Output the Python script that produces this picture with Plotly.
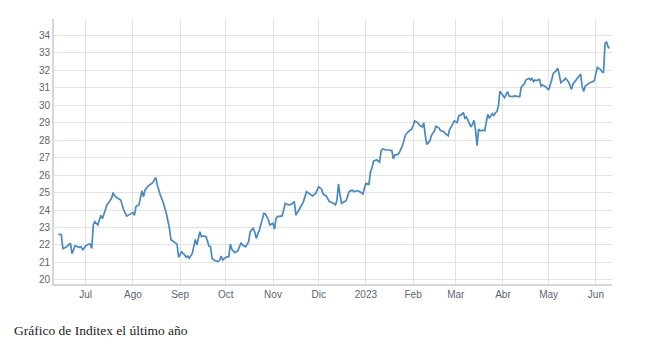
import plotly.graph_objects as go

dates = [
    "2022-06-13", "2022-06-15", "2022-06-16", "2022-06-18", "2022-06-21", "2022-06-22", "2022-06-24",
    "2022-06-27", "2022-06-28", "2022-06-29", "2022-07-01", "2022-07-03", "2022-07-04", "2022-07-05",
    "2022-07-06", "2022-07-07", "2022-07-09", "2022-07-11", "2022-07-12", "2022-07-13", "2022-07-15",
    "2022-07-16", "2022-07-18", "2022-07-19", "2022-07-20", "2022-07-22", "2022-07-24", "2022-07-26",
    "2022-07-28", "2022-07-30", "2022-08-01", "2022-08-02", "2022-08-03", "2022-08-05", "2022-08-06",
    "2022-08-07", "2022-08-08", "2022-08-09", "2022-08-11", "2022-08-12", "2022-08-14", "2022-08-16",
    "2022-08-17", "2022-08-19", "2022-08-21", "2022-08-23", "2022-08-25", "2022-08-26", "2022-08-29",
    "2022-08-30", "2022-08-31", "2022-09-02", "2022-09-04", "2022-09-05", "2022-09-06", "2022-09-07",
    "2022-09-09", "2022-09-10", "2022-09-11", "2022-09-12", "2022-09-14", "2022-09-15", "2022-09-16",
    "2022-09-18", "2022-09-20", "2022-09-21", "2022-09-22", "2022-09-24", "2022-09-26", "2022-09-27",
    "2022-09-28", "2022-09-29", "2022-10-01", "2022-10-03", "2022-10-04", "2022-10-05", "2022-10-07",
    "2022-10-09", "2022-10-11", "2022-10-12", "2022-10-14", "2022-10-16", "2022-10-17", "2022-10-19",
    "2022-10-20", "2022-10-21", "2022-10-23", "2022-10-25", "2022-10-26", "2022-10-27", "2022-10-29",
    "2022-10-30", "2022-11-01", "2022-11-02", "2022-11-03", "2022-11-04", "2022-11-07", "2022-11-08",
    "2022-11-09", "2022-11-11", "2022-11-13", "2022-11-15", "2022-11-16", "2022-11-18", "2022-11-19",
    "2022-11-21", "2022-11-23", "2022-11-25", "2022-11-27", "2022-11-29", "2022-12-01", "2022-12-03",
    "2022-12-04", "2022-12-06", "2022-12-08", "2022-12-10", "2022-12-12", "2022-12-13", "2022-12-14",
    "2022-12-15", "2022-12-16", "2022-12-18", "2022-12-19", "2022-12-21", "2022-12-23", "2022-12-24",
    "2022-12-26", "2022-12-28", "2022-12-30", "2022-12-31", "2023-01-01", "2023-01-03", "2023-01-04",
    "2023-01-05", "2023-01-06", "2023-01-07", "2023-01-08", "2023-01-10", "2023-01-11", "2023-01-12",
    "2023-01-14", "2023-01-16", "2023-01-17", "2023-01-18", "2023-01-19", "2023-01-20", "2023-01-22",
    "2023-01-23", "2023-01-25", "2023-01-27", "2023-01-29", "2023-01-31", "2023-02-01", "2023-02-02",
    "2023-02-04", "2023-02-05", "2023-02-07", "2023-02-08", "2023-02-09", "2023-02-10", "2023-02-12",
    "2023-02-13", "2023-02-15", "2023-02-16", "2023-02-18", "2023-02-19", "2023-02-21", "2023-02-22",
    "2023-02-24", "2023-02-25", "2023-02-27", "2023-02-28", "2023-03-02", "2023-03-03", "2023-03-05",
    "2023-03-06", "2023-03-07", "2023-03-08", "2023-03-09", "2023-03-10", "2023-03-11", "2023-03-12",
    "2023-03-13", "2023-03-14", "2023-03-15", "2023-03-16", "2023-03-17", "2023-03-19", "2023-03-20",
    "2023-03-21", "2023-03-22", "2023-03-23", "2023-03-25", "2023-03-26", "2023-03-27", "2023-03-28",
    "2023-03-29", "2023-03-30", "2023-04-01", "2023-04-02", "2023-04-04", "2023-04-05", "2023-04-07",
    "2023-04-09", "2023-04-11", "2023-04-12", "2023-04-13", "2023-04-15", "2023-04-16", "2023-04-18",
    "2023-04-19", "2023-04-20", "2023-04-21", "2023-04-22", "2023-04-23", "2023-04-25", "2023-04-26",
    "2023-04-27", "2023-04-29", "2023-04-30", "2023-05-01", "2023-05-03", "2023-05-04", "2023-05-06",
    "2023-05-07", "2023-05-08", "2023-05-09", "2023-05-11", "2023-05-12", "2023-05-14", "2023-05-15",
    "2023-05-16", "2023-05-17", "2023-05-19", "2023-05-20", "2023-05-22", "2023-05-23", "2023-05-24",
    "2023-05-25", "2023-05-27", "2023-05-28", "2023-05-30", "2023-05-31", "2023-06-01", "2023-06-02",
    "2023-06-03", "2023-06-04", "2023-06-05", "2023-06-06", "2023-06-07", "2023-06-08", "2023-06-09",
    "2023-06-10",
]

prices = [
    22.61, 22.60, 21.80, 21.87, 22.10, 21.50, 21.95,
    21.87, 21.90, 21.70, 21.95, 22.05, 22.05, 21.80,
    23.15, 23.33, 23.15, 23.70, 23.50, 23.80, 24.30,
    24.40, 24.67, 25.00, 24.80, 24.67, 24.57, 24.00,
    23.65, 23.75, 23.85, 23.70, 24.20, 24.30, 24.67,
    25.10, 24.75, 25.15, 25.37, 25.43, 25.56, 25.87,
    25.43, 24.86, 24.40, 23.80, 22.95, 22.30, 22.13,
    22.05, 21.30, 21.60, 21.43, 21.30, 21.37, 21.24,
    21.52, 21.87, 22.32, 22.00, 22.76, 22.48, 22.51,
    22.48, 21.94, 21.90, 21.24, 21.10, 21.05, 21.14,
    21.37, 21.14, 21.30, 21.33, 22.06, 21.75, 21.56,
    21.68, 22.13, 22.00, 21.90, 22.19, 22.76, 22.95,
    22.76, 22.38, 22.86, 23.47, 23.81, 23.78, 23.43,
    23.14, 23.24, 22.90, 23.52, 23.62, 23.66, 24.00,
    24.38, 24.29, 24.32, 24.48, 23.71, 24.00, 24.19,
    24.48, 25.05, 24.91, 24.80, 24.95, 25.33, 25.18,
    24.91, 24.80, 24.48, 24.42, 24.29, 24.57, 25.49,
    24.86, 24.38, 24.48, 24.53, 25.05, 25.14, 25.05,
    25.10, 25.05, 24.91, 25.24, 25.52, 25.47, 26.17,
    26.42, 26.79, 26.83, 26.87, 26.74, 27.40, 27.49,
    27.43, 27.43, 27.43, 27.40, 26.92, 27.15, 27.17,
    27.30, 27.68, 28.30, 28.49, 28.62, 28.81, 29.09,
    29.00, 28.87, 28.75, 28.98, 28.25, 27.74, 27.96,
    28.25, 28.53, 28.79, 28.68, 28.53, 28.49, 28.38,
    28.25, 28.62, 28.91, 29.09, 29.00, 29.38, 29.47,
    29.57, 29.25, 29.32, 29.13, 28.91, 28.75, 28.91,
    29.13, 28.57, 27.68, 28.62, 28.53, 28.57, 28.53,
    29.00, 29.47, 29.25, 29.51, 29.38, 29.57, 29.62,
    29.94, 30.79, 30.57, 30.42, 30.77, 30.52, 30.48,
    30.52, 30.48, 30.48, 31.02, 31.21, 31.43, 31.53,
    31.43, 31.53, 31.34, 31.43, 31.40, 31.47, 31.09,
    31.15, 31.05, 30.96, 30.86, 31.43, 31.81, 31.97,
    32.10, 31.72, 31.28, 31.43, 31.53, 31.34, 31.09,
    30.90, 31.21, 31.43, 31.59, 31.78, 31.05, 30.77,
    31.09, 31.21, 31.28, 31.34, 31.40, 31.81, 32.16,
    32.10, 32.04, 31.91, 31.85, 33.52, 33.62, 33.33,
    33.24,
]

tick_dates = ["2022-07-01", "2022-08-01", "2022-09-01", "2022-10-01", "2022-11-01", "2022-12-01",
              "2023-01-01", "2023-02-01", "2023-03-01", "2023-04-01", "2023-05-01", "2023-06-01"]
tick_labels = ["Jul", "Ago", "Sep", "Oct", "Nov", "Dic", "2023", "Feb", "Mar", "Abr", "May", "Jun"]
y_ticks = list(range(20, 35))
caption = "Gráfico de Inditex el último año"

fig = go.Figure()
fig.add_trace(go.Scatter(
    x=dates, y=prices, mode="lines",
    line=dict(color="#4a88c2", width=1.7),
    hoverinfo="skip", showlegend=False,
))

grid = "#e3e3e3"
tick_font = dict(family="Liberation Sans, Arial, sans-serif", size=10, color="#5b6570")

fig.update_layout(
    width=630, height=342,
    margin=dict(l=46, r=26, t=11, b=66),
    paper_bgcolor="white", plot_bgcolor="white",
    xaxis=dict(
        range=["2022-06-10 05:00", "2023-06-11 14:00"],
        tickmode="array", tickvals=tick_dates, ticktext=tick_labels,
        showgrid=True, gridcolor=grid, gridwidth=1,
        showline=True, linecolor="#d6d6d6", linewidth=2,
        ticks="", tickfont=tick_font, zeroline=False,
    ),
    yaxis=dict(
        range=[19.77, 34.92],
        tickmode="array", tickvals=y_ticks,
        showgrid=True, gridcolor=grid, gridwidth=1,
        showline=True, linecolor="#d6d6d6", linewidth=2,
        ticks="", tickfont=tick_font, zeroline=False,
    ),
    annotations=[dict(
        text=caption, xref="paper", yref="paper",
        x=-42 / 558, y=-46 / 265,
        xanchor="left", yanchor="middle", showarrow=False,
        font=dict(family="Liberation Serif, Times New Roman, serif", size=13.5, color="#222222"),
    )],
)

fig.write_html("out.html")
